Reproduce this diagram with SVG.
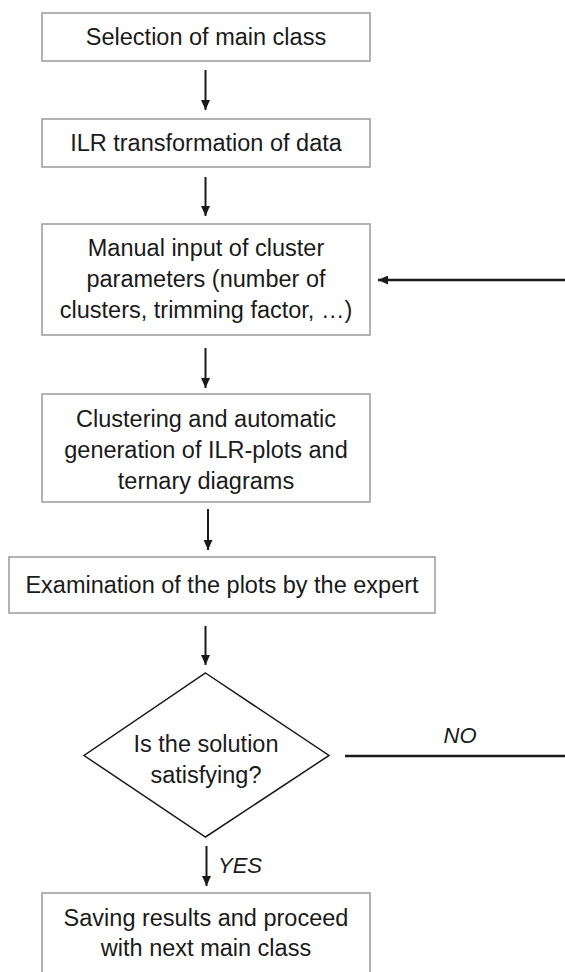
<svg xmlns="http://www.w3.org/2000/svg" width="565" height="972" viewBox="0 0 565 972">
<style>
  .box { fill: #ffffff; stroke: #a0a0a0; stroke-width: 1.6; }
  .dia { fill: #ffffff; stroke: #1a1a1a; stroke-width: 1.5; }
  .t { font-family: "Liberation Sans", Arial, sans-serif; font-size: 23.5px; fill: #1a1a1a; text-anchor: middle; }
  .lbl { font-family: "Liberation Sans", Arial, sans-serif; font-size: 22px; font-style: italic; fill: #1a1a1a; }
  .arr { stroke: #1a1a1a; stroke-width: 2; fill: none; }
  .fb { stroke: #1a1a1a; stroke-width: 2.5; fill: none; }
</style>
<defs>
  <marker id="ah" markerUnits="userSpaceOnUse" markerWidth="10" markerHeight="9" refX="10" refY="4.5" orient="auto">
    <path d="M0,0 L10,4.5 L0,9 z" fill="#1a1a1a"/>
  </marker>
</defs>
<rect width="565" height="972" fill="#ffffff"/>

<g id="n1">
  <rect class="box" x="42" y="13" width="328" height="48"/>
  <text class="t" x="206" y="45">Selection of main class</text>
</g>
<g id="n2">
  <rect class="box" x="42" y="119" width="328" height="48"/>
  <text class="t" x="206" y="151">ILR transformation of data</text>
</g>
<g id="n3">
  <rect class="box" x="42" y="224" width="328" height="111"/>
  <text class="t" x="206" y="256">Manual input of cluster</text>
  <text class="t" x="206" y="287">parameters (number of</text>
  <text class="t" x="206" y="318">clusters, trimming factor, …)</text>
</g>
<g id="n4">
  <rect class="box" x="42" y="394" width="328" height="108"/>
  <text class="t" x="206" y="427">Clustering and automatic</text>
  <text class="t" x="206" y="458">generation of ILR-plots and</text>
  <text class="t" x="206" y="489">ternary diagrams</text>
</g>
<g id="n5">
  <rect class="box" x="9" y="557" width="426" height="56"/>
  <text class="t" x="222" y="593">Examination of the plots by the expert</text>
</g>
<g id="n6">
  <polygon class="dia" points="205.5,673 329,755.5 205.5,837 84,755.5"/>
  <text class="t" x="206" y="752">Is the solution</text>
  <text class="t" x="206" y="783">satisfying?</text>
</g>
<g id="n7">
  <rect class="box" x="42" y="893" width="328" height="100"/>
  <text class="t" x="206" y="926">Saving results and proceed</text>
  <text class="t" x="206" y="956">with next main class</text>
</g>

<g id="connectors">
  <line class="arr" x1="205.5" y1="70" x2="205.5" y2="110" marker-end="url(#ah)"/>
  <line class="arr" x1="205.5" y1="177" x2="205.5" y2="216" marker-end="url(#ah)"/>
  <line class="arr" x1="205.5" y1="348" x2="205.5" y2="388" marker-end="url(#ah)"/>
  <line class="arr" x1="208" y1="509" x2="208" y2="550" marker-end="url(#ah)"/>
  <line class="arr" x1="205.5" y1="626" x2="205.5" y2="665" marker-end="url(#ah)"/>
  <line class="arr" x1="206.5" y1="846" x2="206.5" y2="886" marker-end="url(#ah)"/>
  <line class="fb" x1="345" y1="756" x2="565" y2="756"/>
  <line class="fb" x1="565" y1="280" x2="378" y2="280" marker-end="url(#ah)"/>
  <text class="lbl" x="460" y="743" text-anchor="middle">NO</text>
  <text class="lbl" x="218" y="873">YES</text>
</g>
</svg>
